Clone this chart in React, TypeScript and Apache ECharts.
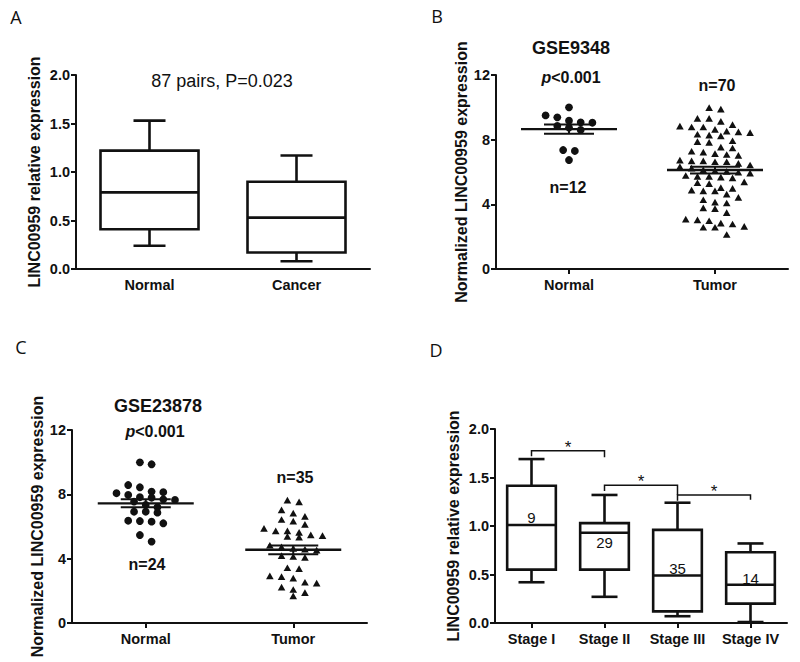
import React, { useEffect, useRef } from "react";
import * as echarts from "echarts";

const FONT = 'Arial, "Liberation Sans", Helvetica, sans-serif';
const INK = "#111111";

// ---------- Panel A ----------
const aCategories = ["Normal", "Cancer"];
const aWhiskerLow = [0.24, 0.08];
const aQ1 = [0.41, 0.17];
const aMedian = [0.79, 0.53];
const aQ3 = [1.22, 0.9];
const aWhiskerHigh = [1.53, 1.17];
const aTicks = [0, 0.5, 1.0, 1.5, 2.0];

// ---------- Panel B (GSE9348) ----------
const bCategories = ["Normal", "Tumor"];
const bNormal = [10.0, 9.5, 9.38, 9.17, 9.07, 9.05, 8.85, 8.75, 8.6, 7.36, 7.3, 6.74];
const bTumor = [
  9.95, 9.85, 9.28, 9.28, 9.1, 8.9, 8.8, 8.75, 8.75, 8.6, 8.5, 8.45, 8.4, 8.3, 8.25, 8.2,
  7.9, 7.85, 7.8, 7.5, 7.45, 7.25, 7.2, 7.1, 7.05, 7.0, 6.7, 6.65, 6.65, 6.6, 6.6, 6.5, 6.4,
  6.3, 6.2, 6.1, 6.05, 6.0, 5.95, 5.9, 5.75, 5.7, 5.7, 5.65, 5.6, 5.35, 5.3, 5.25, 5.0, 4.95,
  4.85, 4.8, 4.8, 4.6, 4.4, 4.25, 4.1, 4.05, 3.75, 3.7, 3.45, 3.05, 3.0, 2.95, 2.8, 2.75, 2.6,
  2.55, 2.55, 2.1,
];
const bMean = [8.65, 6.12];
const bSem = [0.29, 0.21];
const bTicks = [0, 4, 8, 12];

// ---------- Panel C (GSE23878) ----------
const cCategories = ["Normal", "Tumor"];
const cNormal = [
  9.99, 9.87, 8.58, 8.44, 8.17, 8.13, 8.07, 7.96, 7.82, 7.79, 7.69, 7.65, 7.55, 7.34, 7.2,
  6.92, 6.92, 6.86, 6.36, 6.34, 6.3, 6.2, 5.47, 5.06,
];
const cTumor = [
  7.6, 7.5, 7.0, 6.8, 6.6, 6.4, 6.3, 6.1, 5.85, 5.7, 5.7, 5.6, 5.45, 5.4, 5.35, 5.3, 4.8, 4.7,
  4.6, 4.55, 4.5, 4.15, 4.1, 4.05, 3.4, 3.35, 2.9, 2.85, 2.75, 2.5, 2.45, 2.2, 2.05, 1.85, 1.65,
];
const cMean = [7.44, 4.55];
const cSem = [0.25, 0.27];
const cTicks = [0, 4, 8, 12];

// ---------- Panel D ----------
const dCategories = ["Stage I", "Stage II", "Stage III", "Stage IV"];
const dWhiskerLow = [0.42, 0.27, 0.07, 0.01];
const dQ1 = [0.55, 0.55, 0.12, 0.2];
const dMedian = [1.01, 0.93, 0.49, 0.395];
const dQ3 = [1.415, 1.03, 0.96, 0.73];
const dWhiskerHigh = [1.69, 1.32, 1.24, 0.82];
const dCounts = ["9", "29", "35", "14"];
const dCountY = [1.09, 0.835, 0.56, 0.46];
const dBracketFrom = [0, 1, 2];
const dBracketTo = [1, 2, 3];
const dBracketTop = [1.776, 1.42, 1.32];
const dBracketLegLeft = [1.72, 1.36, 1.26];
const dBracketLegRight = [1.71, 1.32, 1.27];
const dTicks = [0, 0.5, 1.0, 1.5, 2.0];

function swarm(cat: number, values: number[], binH: number, maxPerRow: number): number[][] {
  const sorted = [...values].sort((a, b) => b - a);
  const out: number[][] = [];
  let i = 0;
  while (i < sorted.length) {
    const start = sorted[i];
    const row: number[] = [];
    while (i < sorted.length && start - sorted[i] < binH && row.length < maxPerRow) {
      row.push(sorted[i]);
      i++;
    }
    row.forEach((v, k) => out.push([cat, v, k - (row.length - 1) / 2]));
  }
  return out;
}

function boxRender(capHalf: number, lw: number) {
  return (params: any, api: any) => {
    const i = api.value(0);
    const band = api.size([1, 0])[0];
    const half = band / 3;
    const lo = api.coord([i, api.value(1)]);
    const cx = lo[0];
    const yLo = lo[1];
    const yQ1 = api.coord([i, api.value(2)])[1];
    const yMed = api.coord([i, api.value(3)])[1];
    const yQ3 = api.coord([i, api.value(4)])[1];
    const yHi = api.coord([i, api.value(5)])[1];
    const st = { stroke: INK, lineWidth: lw, fill: "none" };
    return {
      type: "group",
      children: [
        { type: "line", shape: { x1: cx, y1: yHi, x2: cx, y2: yQ3 }, style: st },
        { type: "line", shape: { x1: cx, y1: yQ1, x2: cx, y2: yLo }, style: st },
        { type: "line", shape: { x1: cx - capHalf, y1: yHi, x2: cx + capHalf, y2: yHi }, style: st },
        { type: "line", shape: { x1: cx - capHalf, y1: yLo, x2: cx + capHalf, y2: yLo }, style: st },
        {
          type: "rect",
          shape: { x: cx - half, y: yQ3, width: 2 * half, height: yQ1 - yQ3 },
          style: { stroke: INK, lineWidth: lw, fill: "#ffffff" },
        },
        { type: "line", shape: { x1: cx - half, y1: yMed, x2: cx + half, y2: yMed }, style: st },
      ],
    };
  };
}

function dotRender(kind: "circle" | "triangle", step: number) {
  return (params: any, api: any) => {
    const p = api.coord([api.value(0), api.value(1)]);
    const x = p[0] + api.value(2) * step;
    const y = p[1];
    if (kind === "circle") {
      return { type: "circle", shape: { cx: x, cy: y, r: 3.9 }, style: { fill: INK } };
    }
    return {
      type: "polygon",
      shape: { points: [[x, y - 3.9], [x - 3.8, y + 2.8], [x + 3.8, y + 2.8]] },
      style: { fill: INK },
    };
  };
}

function meanRender(params: any, api: any) {
  const i = api.value(0);
  const m = api.value(1);
  const s = api.value(2);
  const pm = api.coord([i, m]);
  const yHi = api.coord([i, m + s])[1];
  const yLo = api.coord([i, m - s])[1];
  const cx = pm[0];
  return {
    type: "group",
    children: [
      { type: "line", shape: { x1: cx - 48, y1: pm[1], x2: cx + 48, y2: pm[1] }, style: { stroke: INK, lineWidth: 2.4 } },
      { type: "line", shape: { x1: cx - 25, y1: yHi, x2: cx + 25, y2: yHi }, style: { stroke: INK, lineWidth: 2 } },
      { type: "line", shape: { x1: cx - 25, y1: yLo, x2: cx + 25, y2: yLo }, style: { stroke: INK, lineWidth: 2 } },
      { type: "line", shape: { x1: cx, y1: yHi, x2: cx, y2: yLo }, style: { stroke: INK, lineWidth: 2 } },
    ],
  };
}

function countRender(params: any, api: any) {
  const p = api.coord([api.value(0), api.value(1)]);
  return {
    type: "text",
    x: p[0],
    y: p[1],
    style: {
      text: dCounts[params.dataIndex],
      fontSize: 15,
      fontFamily: FONT,
      fill: INK,
      align: "center",
      verticalAlign: "middle",
    },
  };
}

function bracketRender(params: any, api: any) {
  const a = api.value(0);
  const b = api.value(1);
  const pTopA = api.coord([a, api.value(2)]);
  const pTopB = api.coord([b, api.value(2)]);
  const yL = api.coord([a, api.value(3)])[1];
  const yR = api.coord([b, api.value(4)])[1];
  const st = { stroke: INK, lineWidth: 1.5, fill: "none" };
  return {
    type: "group",
    children: [
      {
        type: "polyline",
        shape: { points: [[pTopA[0], yL], [pTopA[0], pTopA[1]], [pTopB[0], pTopB[1]], [pTopB[0], yR]] },
        style: st,
      },
      {
        type: "text",
        x: (pTopA[0] + pTopB[0]) / 2,
        y: pTopA[1] + 5,
        style: { text: "*", fontSize: 17, fontFamily: FONT, fill: INK, align: "center", verticalAlign: "bottom" },
      },
    ],
  };
}

function catAxis(data: string[], gridIndex: number, showTick: boolean) {
  return {
    type: "category",
    gridIndex,
    data,
    boundaryGap: true,
    axisLine: { lineStyle: { color: INK, width: 2 } },
    axisTick: { show: showTick, alignWithLabel: true, length: 5, lineStyle: { color: INK, width: 2 } },
    axisLabel: { interval: 0, color: INK, fontSize: 14.5, fontWeight: "bold", fontFamily: FONT, margin: 8 },
    splitLine: { show: false },
  };
}

function valAxis(gridIndex: number, ticks: number[], name: string, nameGap: number, digits: number) {
  return {
    type: "value",
    gridIndex,
    min: ticks[0],
    max: ticks[ticks.length - 1],
    interval: ticks[1] - ticks[0],
    name,
    nameLocation: "middle",
    nameGap,
    nameRotate: 90,
    nameTextStyle: { color: INK, fontSize: 16, fontWeight: "bold", fontFamily: FONT },
    axisLine: { show: true, lineStyle: { color: INK, width: 2 } },
    axisTick: { show: true, length: 5, lineStyle: { color: INK, width: 2 } },
    axisLabel: {
      color: INK,
      fontSize: 14.5,
      fontWeight: "bold",
      fontFamily: FONT,
      margin: 6,
      formatter: (v: number) => v.toFixed(digits),
    },
    splitLine: { show: false },
  };
}

function txt(text: string, x: number, y: number, size: number, weight: string, family = FONT) {
  return {
    type: "text",
    x,
    y,
    style: { text, fontSize: size, fontWeight: weight, fontFamily: family, fill: INK, align: "center", verticalAlign: "middle" },
  };
}

function pText(x: number, y: number) {
  return {
    type: "text",
    x,
    y,
    style: {
      text: "{i|p}<0.001",
      fontSize: 16,
      fontWeight: "bold",
      fontFamily: FONT,
      fill: INK,
      align: "center",
      verticalAlign: "middle",
      rich: { i: { fontStyle: "italic", fontWeight: "bold", fontSize: 16, fontFamily: FONT, fill: INK } },
    },
  };
}

export default function App() {
  const ref = useRef<HTMLDivElement>(null);
  useEffect(() => {
    document.body.style.margin = "0";
    if (!ref.current) return;
    const chart = echarts.init(ref.current, undefined, { renderer: "svg" });
    const boxA = aCategories.map((_, i) => [i, aWhiskerLow[i], aQ1[i], aMedian[i], aQ3[i], aWhiskerHigh[i]]);
    const boxD = dCategories.map((_, i) => [i, dWhiskerLow[i], dQ1[i], dMedian[i], dQ3[i], dWhiskerHigh[i]]);
    const option: any = {
      animation: false,
      backgroundColor: "#ffffff",
      grid: [
        { left: 76, top: 75, width: 294, height: 194 },
        { left: 496, top: 75, width: 292, height: 194 },
        { left: 72, top: 430, width: 295, height: 193 },
        { left: 495, top: 429, width: 292, height: 194 },
      ],
      xAxis: [
        catAxis(aCategories, 0, false),
        catAxis(bCategories, 1, true),
        catAxis(cCategories, 2, true),
        catAxis(dCategories, 3, true),
      ],
      yAxis: [
        valAxis(0, aTicks, "LINC00959 relative expression", 34, 1),
        valAxis(1, bTicks, "Normalized LINC00959 expression", 21, 0),
        valAxis(2, cTicks, "Normalized LINC00959 expression", 17, 0),
        valAxis(3, dTicks, "LINC00959 relative expression", 34, 1),
      ],
      series: [
        {
          type: "custom",
          xAxisIndex: 0,
          yAxisIndex: 0,
          renderItem: boxRender(16, 2.6),
          encode: { x: 0, y: [1, 2, 3, 4, 5] },
          data: boxA,
        },
        {
          type: "custom",
          xAxisIndex: 1,
          yAxisIndex: 1,
          renderItem: dotRender("circle", 11.7),
          encode: { x: 0, y: 1 },
          data: swarm(0, bNormal, 0.45, 7),
        },
        {
          type: "custom",
          xAxisIndex: 1,
          yAxisIndex: 1,
          renderItem: dotRender("triangle", 11.7),
          encode: { x: 0, y: 1 },
          data: swarm(1, bTumor, 0.45, 7),
        },
        {
          type: "custom",
          xAxisIndex: 1,
          yAxisIndex: 1,
          renderItem: meanRender,
          encode: { x: 0, y: 1 },
          data: bCategories.map((_, i) => [i, bMean[i], bSem[i]]),
          z: 5,
        },
        {
          type: "custom",
          xAxisIndex: 2,
          yAxisIndex: 2,
          renderItem: dotRender("circle", 11.7),
          encode: { x: 0, y: 1 },
          data: swarm(0, cNormal, 0.45, 7),
        },
        {
          type: "custom",
          xAxisIndex: 2,
          yAxisIndex: 2,
          renderItem: dotRender("triangle", 11.7),
          encode: { x: 0, y: 1 },
          data: swarm(1, cTumor, 0.45, 7),
        },
        {
          type: "custom",
          xAxisIndex: 2,
          yAxisIndex: 2,
          renderItem: meanRender,
          encode: { x: 0, y: 1 },
          data: cCategories.map((_, i) => [i, cMean[i], cSem[i]]),
          z: 5,
        },
        {
          type: "custom",
          xAxisIndex: 3,
          yAxisIndex: 3,
          renderItem: boxRender(13, 2.6),
          encode: { x: 0, y: [1, 2, 3, 4, 5] },
          data: boxD,
        },
        {
          type: "custom",
          xAxisIndex: 3,
          yAxisIndex: 3,
          renderItem: countRender,
          encode: { x: 0, y: 1 },
          data: dCategories.map((_, i) => [i, dCountY[i]]),
          z: 6,
        },
        {
          type: "custom",
          xAxisIndex: 3,
          yAxisIndex: 3,
          renderItem: bracketRender,
          encode: { x: 0, y: 2 },
          data: dBracketFrom.map((f, i) => [f, dBracketTo[i], dBracketTop[i], dBracketLegLeft[i], dBracketLegRight[i]]),
          z: 6,
        },
      ],
      graphic: [
        txt("A", 16, 17, 18, "normal", '"Open Sans", Arial, sans-serif'),
        txt("B", 437, 16, 18, "normal", '"Open Sans", Arial, sans-serif'),
        txt("C", 21, 347, 18, "normal", '"Open Sans", Arial, sans-serif'),
        txt("D", 436, 350, 18, "normal", '"Open Sans", Arial, sans-serif'),
        txt("87 pairs, P=0.023", 222, 81, 18, "normal"),
        txt("GSE9348", 571, 48, 18, "bold"),
        pText(571, 77),
        txt("n=70", 717, 85, 16, "bold"),
        txt("n=12", 568, 187, 16, "bold"),
        txt("GSE23878", 158, 406, 18, "bold"),
        pText(155, 431),
        txt("n=35", 295, 477, 16, "bold"),
        txt("n=24", 147, 564, 16, "bold"),
      ],
    };
    chart.setOption(option);
    return () => chart.dispose();
  }, []);
  return <div ref={ref} style={{ width: 800, height: 662, background: "#fff" }} />;
}
